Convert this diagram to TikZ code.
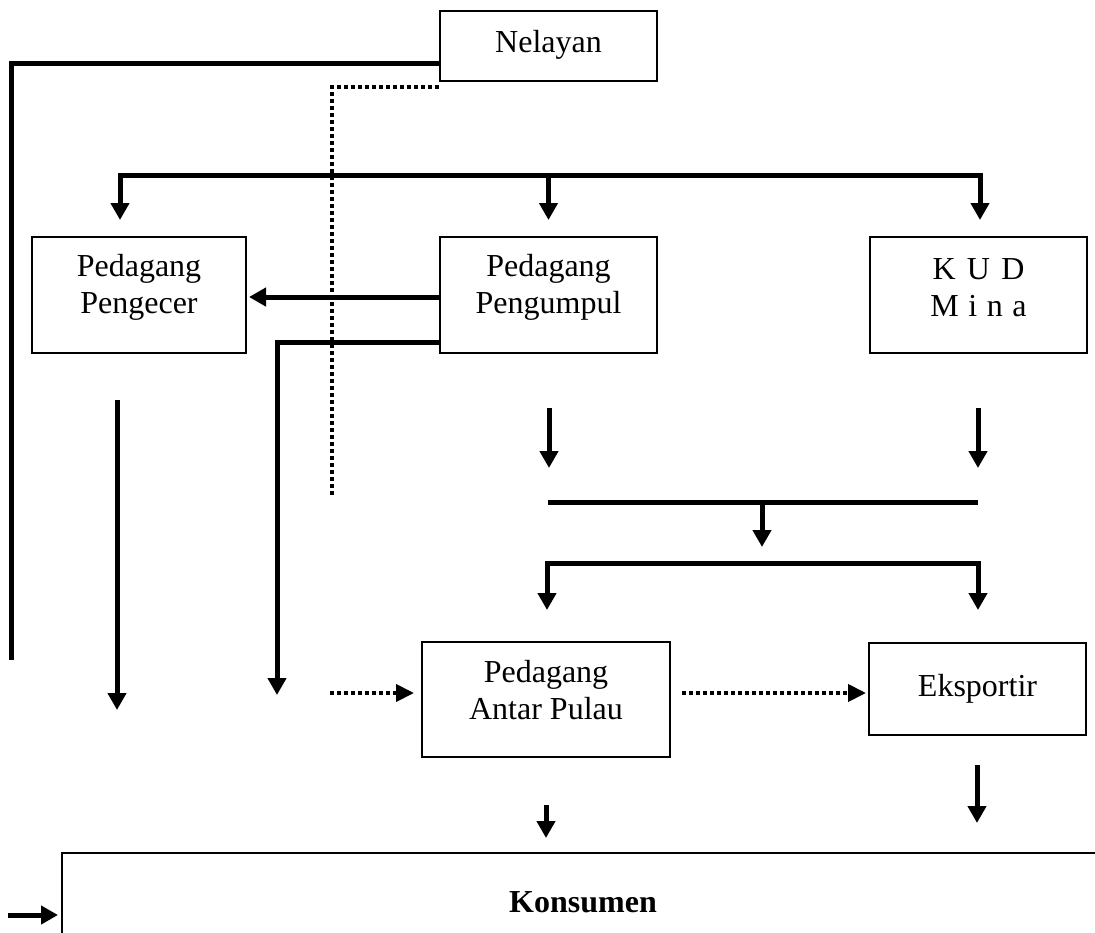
\documentclass[tikz,border=0pt]{standalone}
\usepackage{fontspec}
\setmainfont{Liberation Serif}
\usetikzlibrary{arrows.meta}
\begin{document}
\begin{tikzpicture}[x=1pt,y=-1pt,
  box/.style={draw, line width=2.8pt, inner sep=0pt},
  lbl/.style={inner sep=0pt, align=center, font=\fontsize{32}{37}\selectfont},
  plain/.style={line width=5pt},
  conn/.style={line width=5pt, -{Triangle[width=18pt,length=17pt]}},
  dotline/.style={line width=4pt, dash pattern=on 4pt off 3pt},
  dotconn/.style={dotline, -{Triangle[width=17pt,length=18pt,sep=0pt]}},
]
\useasboundingbox (0,0) rectangle (1095,932);

% boxes
\node[box, minimum width=217pt, minimum height=70pt] (nelayan) at (548.5,46) {};
\node[lbl] (tnelayan) at (548.5,45) {Nelayan};
\node[box, minimum width=214pt, minimum height=116pt] (pengecer) at (139,295) {};
\node[lbl] (tpengecer) at (139,287) {Pedagang\\Pengecer};
\node[box, minimum width=217pt, minimum height=116pt] (pengumpul) at (548.5,295) {};
\node[lbl] (tpengumpul) at (548.5,287) {Pedagang\\Pengumpul};
\node[box, minimum width=217pt, minimum height=116pt] (kud) at (978.5,295) {};
\node[lbl] (tkud) at (978.5,288) {K\hspace{0.35em}U\hspace{0.35em}D\\M\hspace{0.3em}i\hspace{0.3em}n\hspace{0.3em}a};
\node[box, minimum width=248pt, minimum height=115pt] (antar) at (546,699.5) {};
\node[lbl] (tantar) at (546,690) {Pedagang\\Antar Pulau};
\node[box, minimum width=217pt, minimum height=92pt] (eksportir) at (977.5,689) {};
\node[lbl] (teksportir) at (977.5,689) {Eksportir};
\node[box, minimum width=1042pt, minimum height=98pt] (konsumen) at (583,902) {};
\node[lbl, font=\fontsize{32}{37}\selectfont\bfseries] (tkonsumen) at (583,902) {Konsumen};

% coordinates
\coordinate (n1) at (nelayan.west |- 0,63);
\coordinate (n2) at (11,63);
\coordinate (n3) at (11,660);
\coordinate (d1) at (nelayan.west |- 0,87);
\coordinate (d2) at (332,87);
\coordinate (d3) at (332,495);
\coordinate (tb) at (548.5,175);
\coordinate (a1) at (120,220);
\coordinate (a2) at (548.5,220);
\coordinate (a3) at (980,220);
\coordinate (p1) at (pengumpul.west |- 0,297);
\coordinate (p2) at (249,297);
\coordinate (q1) at (pengumpul.west |- 0,342);
\coordinate (q2) at (277,695);
\coordinate (r1) at (117,400);
\coordinate (r2) at (117,710);
\coordinate (s1) at (330,693);
\coordinate (s2) at (414,693);
\coordinate (u1) at (549,408);
\coordinate (u2) at (549,468);
\coordinate (v1) at (978,408);
\coordinate (v2) at (978,468);
\coordinate (m1) at (548,502);
\coordinate (m2) at (978,502);
\coordinate (m3) at (762,502);
\coordinate (m4) at (762,547);
\coordinate (l0) at (762,563);
\coordinate (l1) at (547,610);
\coordinate (l2) at (978,610);
\coordinate (e1) at (682,693);
\coordinate (e2) at (866,693);
\coordinate (b1) at (546,805);
\coordinate (b2) at (546,838);
\coordinate (c1) at (977,765);
\coordinate (c2) at (977,823);
\coordinate (k1) at (8,915);
\coordinate (k2) at (58,915);

% connectors
\draw[plain] (n1) -- (n2) -- (n3);
\draw[dotline] (d1) -- (d2) -- (d3);
\draw[conn] (tb) -| (a1);
\draw[conn] (tb) -| (a3);
\draw[conn] (tb) -- (a2);
\draw[conn] (p1) -- (p2);
\draw[conn] (q1) -| (q2);
\draw[conn] (r1) -- (r2);
\draw[dotconn] (s1) -- (s2);
\draw[conn] (u1) -- (u2);
\draw[conn] (v1) -- (v2);
\draw[plain] (m1) -- (m2);
\draw[conn] (m3) -- (m4);
\draw[conn] (l0) -| (l1);
\draw[conn] (l0) -| (l2);
\draw[dotconn] (e1) -- (e2);
\draw[conn] (b1) -- (b2);
\draw[conn] (c1) -- (c2);
\draw[conn] (k1) -- (k2);
\end{tikzpicture}
\end{document}
